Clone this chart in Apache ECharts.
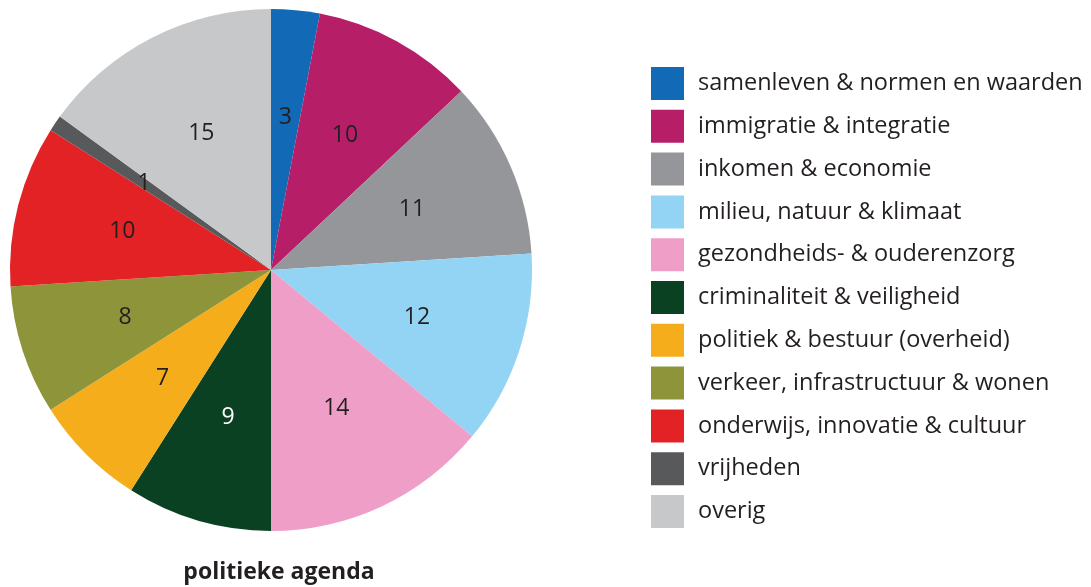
<!DOCTYPE html>
<html>
<head>
<meta charset="utf-8">
<script src="https://cdn.jsdelivr.net/npm/echarts@6/dist/echarts.min.js"></script>
<style>
html,body{margin:0;padding:0;background:#fff;}
#chart{width:1091px;height:587px;}
</style>
</head>
<body>
<div id="chart"></div>
<script>
const categories = [
  'samenleven & normen en waarden',
  'immigratie & integratie',
  'inkomen & economie',
  'milieu, natuur & klimaat',
  'gezondheids- & ouderenzorg',
  'criminaliteit & veiligheid',
  'politiek & bestuur (overheid)',
  'verkeer, infrastructuur & wonen',
  'onderwijs, innovatie & cultuur',
  'vrijheden',
  'overig'
];
const values = [3, 10, 11, 12, 14, 9, 7, 8, 10, 1, 15];
const colors = ['#1269b5', '#b71e68', '#959699', '#93d3f3', '#ef9fc7', '#0a4122', '#f6ad1c', '#8d943a', '#e32226', '#58595b', '#c7c8ca'];
const labelColors = ['#231f20','#231f20','#231f20','#231f20','#231f20','#ffffff','#231f20','#231f20','#231f20','#231f20','#231f20'];
const chartTitle = 'politieke agenda';

const FONT = '"Open Sans", "Noto Sans", sans-serif';
const chart = echarts.init(document.getElementById('chart'));

const pieData = categories.map((c, i) => ({
  name: c, value: values[i], itemStyle: { color: colors[i] }
}));
const labelData = categories.map((c, i) => ({
  name: c, value: values[i],
  itemStyle: { color: 'rgba(0,0,0,0)' },
  label: { color: labelColors[i] }
}));

chart.setOption({
  animation: false,
  backgroundColor: '#ffffff',
  title: {
    text: chartTitle,
    left: 279,
    textAlign: 'center',
    top: 561,
    padding: 0,
    textStyle: { fontFamily: FONT, fontSize: 23, fontWeight: 'bold', color: '#231f20' }
  },
  legend: {
    orient: 'vertical',
    left: 651,
    top: 67,
    padding: 0,
    itemWidth: 33,
    itemHeight: 33,
    itemGap: 9.8,
    icon: 'rect',
    data: categories,
    selectedMode: false,
    textStyle: { fontFamily: FONT, fontSize: 23.5, color: '#231f20', padding: [0, 0, 0, 9] }
  },
  series: [
    {
      type: 'pie',
      center: [271, 270],
      radius: 261,
      startAngle: 90,
      clockwise: true,
      silent: true,
      label: { show: false },
      labelLine: { show: false },
      itemStyle: { borderWidth: 0 },
      data: pieData
    },
    {
      type: 'pie',
      center: [271, 270],
      radius: [40, 261],
      startAngle: 90,
      clockwise: true,
      silent: true,
      legendHoverLink: false,
      label: {
        show: true,
        position: 'inside',
        formatter: '{c}',
        fontFamily: FONT,
        fontSize: 23,
        color: '#231f20'
      },
      labelLine: { show: false },
      itemStyle: { borderWidth: 0 },
      data: labelData
    }
  ]
});
</script>
</body>
</html>
